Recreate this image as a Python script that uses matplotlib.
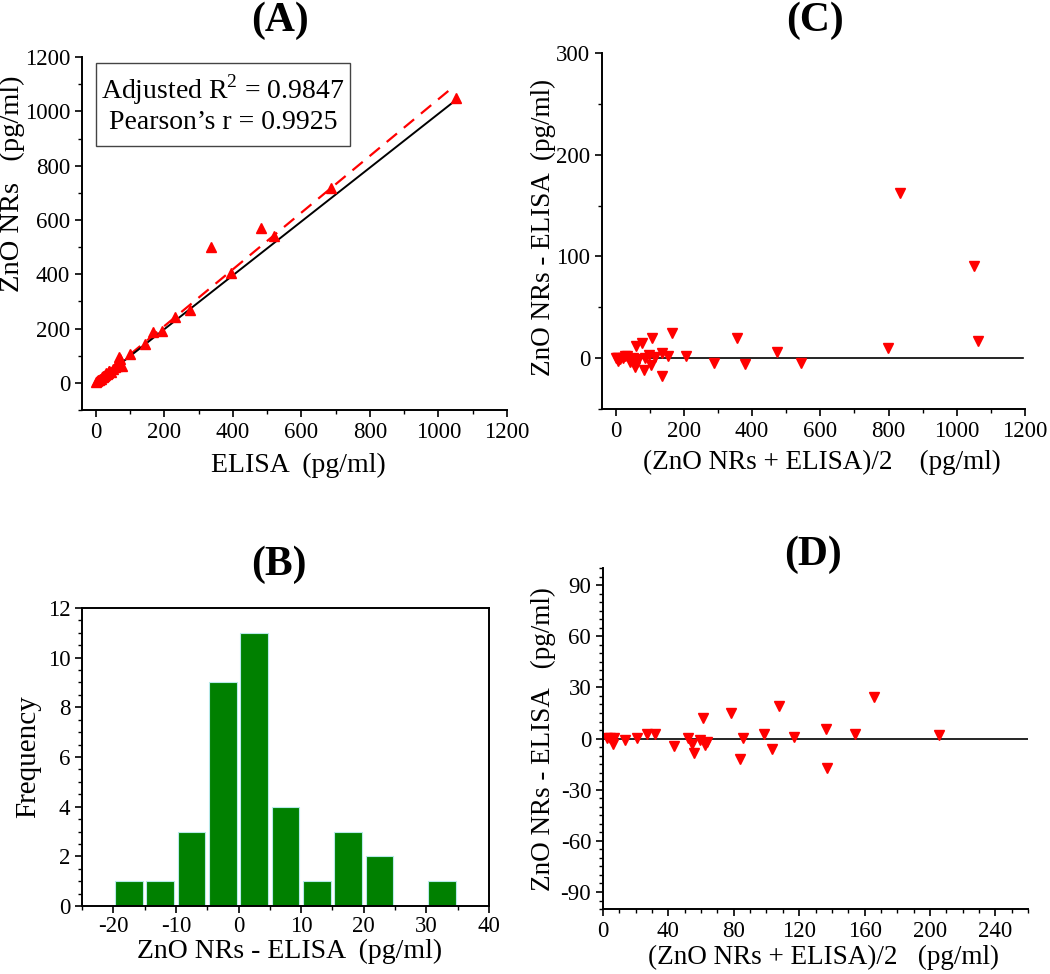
import numpy as np
import matplotlib
matplotlib.use("Agg")
import matplotlib.pyplot as plt
from matplotlib.ticker import MultipleLocator
from matplotlib.patches import Rectangle

plt.rcParams['font.family'] = ['Liberation Serif', 'DejaVu Serif']
plt.rcParams['mathtext.fontset'] = 'custom'
plt.rcParams['mathtext.rm'] = 'Liberation Serif'
plt.rcParams['axes.linewidth'] = 1.4
plt.rcParams['axes.unicode_minus'] = False
plt.rcParams['xtick.direction'] = 'out'
plt.rcParams['ytick.direction'] = 'out'

# (A) ELISA vs ZnO NRs
elisa = [2, 5, 8, 10, 12, 15, 18, 20, 22, 25, 28, 30, 32, 35, 38, 40, 45, 50,
         55, 62, 68, 72, 76, 101, 145, 166, 192, 232, 274, 335, 396, 481, 521,
         686, 1050]
zno = [3, 6, 10, 9, 15, 14, 20, 22, 25, 24, 30, 35, 31, 38, 42, 45, 40, 52,
       58, 62, 95, 88, 62, 106, 143, 188, 190, 243, 270, 500, 406, 572, 541,
       717, 1051]
fit_x = [23, 1051]
fit_y = [22, 1042]
dash_x = [0, 1040]
dash_y = [0, 1087]

# (B) histogram of differences
bin_left = [-20, -15, -10, -5, 0, 5, 10, 15, 20, 25, 30]
counts = [1, 1, 3, 9, 11, 4, 1, 3, 2, 0, 1]

# (D) Bland-Altman, low range
mean_low = [2.4, 4.5, 6.5, 6.1, 13.2, 20.6, 26.9, 32, 43.6, 51.7, 54.4, 55.4,
            59.6, 60.9, 62.5, 63.7, 78, 83.5, 85.5, 98.7, 103.6, 107.7, 116.6,
            136.4, 136.8, 154.1, 165.9, 205.6]
diff_low = [0.4, 0.4, 0.4, -2.9, -1, 0.4, 2.5, 2.5, -4.3, 0.4, -3.3, -8.4,
            -0.6, 12.3, -3.9, -2, 15, -12.1, 0.4, 2.9, -6.4, 19.3, 1, 5.5,
            -17.4, 2.5, 24.6, 2.3]
# (C) extra points in the full range
mean_high = [288, 356, 378, 474, 543, 799, 833, 1051, 1062]
diff_high = [-4.9, 19.6, -5.6, 6.5, -4.9, 9.8, 162, 90.6, 16.4]

red = '#ff0000'
fig = plt.figure(figsize=(10.5, 9.74), dpi=100)

axA = fig.add_axes([0.0781, 0.579, 0.4048, 0.3624])
axC = fig.add_axes([0.5733, 0.5801, 0.4029, 0.3655])
axB = fig.add_axes([0.0781, 0.0698, 0.3876, 0.306])
axD = fig.add_axes([0.5743, 0.0667, 0.4048, 0.350])


def style(ax, box=False):
    if not box:
        ax.spines['top'].set_visible(False)
        ax.spines['right'].set_visible(False)
    ax.tick_params(which='major', length=5, width=1.2, labelsize=16.5)
    ax.tick_params(which='minor', length=3, width=1.0)


def labels(ax, xl, yl, xpos, ypos, xs=20, ys=20):
    ax.set_xlabel(xl, fontsize=xs)
    ax.set_ylabel(yl, fontsize=ys)
    ax.xaxis.set_label_coords(*xpos)
    ax.yaxis.set_label_coords(*ypos)
    ax.xaxis.label.set_va('center')
    ax.yaxis.label.set_va('center')


# A
axA.plot(dash_x, dash_y, '--', color=red, lw=1.6, dashes=(6, 4))
axA.plot(fit_x, fit_y, '-', color='black', lw=1.4)
axA.plot(elisa, zno, '^', color=red, ms=7.5, mec=red)
axA.set_xlim(-40, 1200)
axA.set_ylim(-100, 1200)
axA.xaxis.set_major_locator(MultipleLocator(200))
axA.xaxis.set_minor_locator(MultipleLocator(100))
axA.set_yticks([0, 200, 400, 600, 800, 1000, 1200])
axA.yaxis.set_minor_locator(MultipleLocator(100))
labels(axA, 'ELISA  (pg/ml)', 'ZnO NRs   (pg/ml)', (0.508, -0.156),
       (-0.163, 0.64), ys=20.5)
style(axA)
axA.add_patch(Rectangle((0.033, 0.748), 0.598, 0.235, transform=axA.transAxes,
                        fill=False, edgecolor='#444444', lw=1.0))
axA.text(0.332, 0.907, 'Adjusted R$^2$ = 0.9847', transform=axA.transAxes,
         ha='center', va='center', fontsize=20)
axA.text(0.332, 0.816, 'Pearson\u2019s r = 0.9925', transform=axA.transAxes,
         ha='center', va='center', fontsize=20)
fig.text(0.267, 0.979, '(A)', ha='center', va='center', fontsize=30,
         fontweight='bold')

# C
axC.axhline(0, xmin=0.03, xmax=0.995, color='black', lw=1.2)
axC.plot(mean_low + mean_high, diff_low + diff_high, 'v', color=red, ms=7.5,
         mec=red)
axC.set_xlim(-40, 1200)
axC.set_ylim(-50, 300)
axC.xaxis.set_major_locator(MultipleLocator(200))
axC.xaxis.set_minor_locator(MultipleLocator(100))
axC.set_yticks([0, 100, 200, 300])
axC.yaxis.set_minor_locator(MultipleLocator(50))
labels(axC, '(ZnO NRs + ELISA)/2    (pg/ml)', 'ZnO NRs - ELISA  (pg/ml)',
       (0.52, -0.149), (-0.139, 0.51), xs=19.5, ys=19.5)
style(axC)
fig.text(0.776, 0.979, '(C)', ha='center', va='center', fontsize=30,
         fontweight='bold')

# B
axB.bar(np.array(bin_left) + 2.5, counts, width=4.4, color='#008000',
        edgecolor='#b8eaea', lw=0.8)
axB.set_xlim(-25, 40)
axB.set_ylim(0, 12)
axB.xaxis.set_major_locator(MultipleLocator(10))
axB.xaxis.set_minor_locator(MultipleLocator(5))
axB.yaxis.set_major_locator(MultipleLocator(2))
axB.yaxis.set_minor_locator(MultipleLocator(0.5))
labels(axB, 'ZnO NRs - ELISA  (pg/ml)', 'Frequency', (0.51, -0.152),
       (-0.133, 0.5), ys=21)
style(axB, box=True)
axB.tick_params(axis='x', pad=2)
fig.text(0.266, 0.420, '(B)', ha='center', va='center', fontsize=30,
         fontweight='bold')

# D
axD.axhline(0, color='black', lw=1.2)
axD.plot(mean_low, diff_low, 'v', color=red, ms=7.5, mec=red)
axD.set_xlim(0, 260)
axD.set_ylim(-100, 100)
axD.xaxis.set_major_locator(MultipleLocator(40))
axD.xaxis.set_minor_locator(MultipleLocator(10))
axD.set_yticks([-90, -60, -30, 0, 30, 60, 90])
axD.yaxis.set_minor_locator(MultipleLocator(5))
labels(axD, '(ZnO NRs + ELISA)/2   (pg/ml)', 'ZnO NRs - ELISA   (pg/ml)',
       (0.518, -0.141), (-0.141, 0.5), xs=19.5, ys=19.5)
style(axD)
fig.text(0.774, 0.430, '(D)', ha='center', va='center', fontsize=30,
         fontweight='bold')

fig.savefig('out.png', dpi=100)
